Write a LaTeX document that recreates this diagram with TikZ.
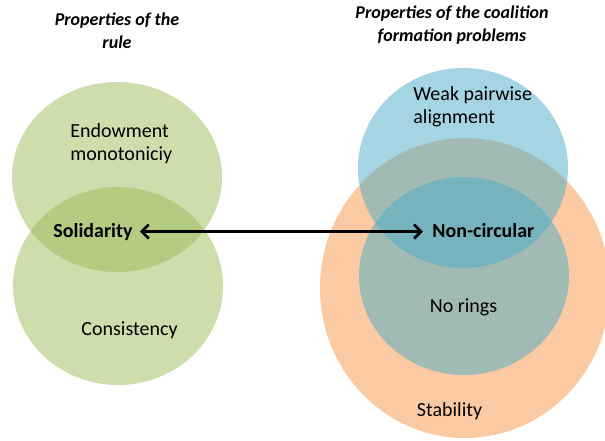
\documentclass[tikz,border=0pt]{standalone}
\usepackage{fontspec}
\setmainfont{Carlito}
\usetikzlibrary{shapes.geometric,arrows.meta,positioning}
\definecolor{rulegreen}{HTML}{9BBB59}
\definecolor{probblue}{HTML}{4BACC6}
\definecolor{proborange}{HTML}{F79646}
\tikzset{
  venn/.style={ellipse,draw=none,inner sep=0pt,fill opacity=0.5},
  prop/.style={inner sep=0pt,align=left,font=\fontsize{10}{11.5}\selectfont},
  heading/.style={inner sep=0pt,align=center,font=\fontsize{9}{11.5}\selectfont\bfseries\itshape},
  link/.style={{Straight Barb[length=3.5pt,width=7pt]}-{Straight Barb[length=3.5pt,width=7pt]},line width=1.35pt,shorten <=3.5pt,shorten >=4.5pt},
}
\begin{document}
\begin{tikzpicture}[x=0.5pt,y=-0.5pt]
	\useasboundingbox (0,0) rectangle (605,440);
	% rule
	\node[venn,fill=rulegreen,minimum width=105pt,minimum height=95pt] (endow) at (117,177) {};
	\node[venn,fill=rulegreen,minimum width=105pt,minimum height=99pt] (consist) at (118,286) {};
	% coalition formation problems
	\node[venn,fill=proborange,minimum width=145pt,minimum height=150pt] (stab) at (465,288) {};
	\node[venn,fill=probblue,minimum width=105pt,minimum height=100pt] (weak) at (463,168) {};
	\node[venn,fill=probblue,minimum width=105pt,minimum height=99pt] (rings) at (464,276) {};
	% 
	\node[heading] (hrule) at (117,31) {Properties of the\\rule};
	\node[heading] (hprob) at (452,25) {Properties of the coalition\\formation problems};
	% 
	\node[prop,anchor=west] (endowtxt) at (70,144) {Endowment\\monotoniciy};
	\node[prop,anchor=base] (consisttxt) at (129.5,335) {Consistency};
	\node[prop,anchor=west] (weaktxt) at (413,107) {Weak pairwise\\alignment};
	\node[prop,anchor=base] (ringstxt) at (463.5,312) {No rings};
	\node[prop,anchor=base] (stabtxt) at (449.5,416) {Stability};
	\node[prop,anchor=base west,font=\fontsize{10}{11.5}\selectfont\bfseries] (soli) at (53,237) {Solidarity};
	\node[prop,anchor=base west,font=\fontsize{10}{11.5}\selectfont\bfseries] (ncirc) at (432,237) {Non-circular};
	% 
	\draw[link] (soli.east) -- (soli.east -| ncirc.west);
\end{tikzpicture}
\end{document}
